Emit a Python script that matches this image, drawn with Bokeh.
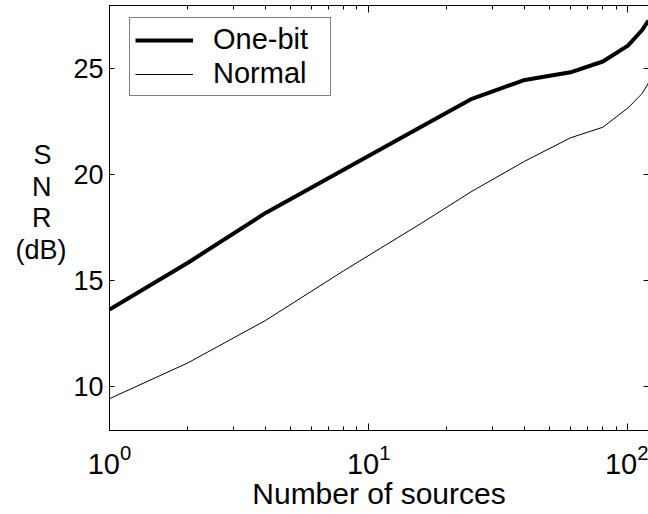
from bokeh.plotting import figure
from bokeh.models import (LogAxis, LinearAxis, FixedTicker, LogTicker,
                          Legend, LegendItem, Range1d, CustomJSTickFormatter)
from bokeh.embed import file_html
from bokeh.resources import INLINE

# ---- data ----
n_sources = [1, 2, 4, 8, 16, 25, 40, 60, 80, 100, 113, 120]
snr_one_bit = [13.62, 15.82, 18.18, 20.22, 22.25, 23.56, 24.45, 24.81, 25.32, 26.07, 26.78, 27.25]
snr_normal = [9.42, 11.1, 13.11, 15.45, 17.7, 19.2, 20.62, 21.72, 22.22, 23.13, 23.79, 24.3]
y_ticks = [10, 15, 20, 25]
y_label_lines = ["S\u00a0\u00a0", "N\u00a0\u00a0", "R\u00a0\u00a0", "(dB)"]

FONT = "Liberation Sans"

p = figure(width=648, height=514, x_axis_type="log",
           x_range=Range1d(1, 120), y_range=Range1d(7.92, 27.96),
           output_backend="svg", toolbar_location=None,
           min_border_left=109, min_border_right=0, min_border_top=5,
           min_border_bottom=84)
p.background_fill_color = "white"
p.border_fill_color = "white"
p.outline_line_color = None
p.grid.visible = False

r1 = p.line(n_sources, snr_one_bit, line_color="black", line_width=4)
r2 = p.line(n_sources, snr_normal, line_color="black", line_width=1)

# bottom axis
xa = p.xaxis[0]
xa.ticker = LogTicker(desired_num_ticks=3, num_minor_ticks=10)
xa.axis_label = "Number of sources"
xa.axis_label_text_font = FONT
xa.axis_label_text_font_size = "30px"
xa.axis_label_text_font_style = "normal"
xa.axis_label_text_color = "black"
xa.axis_label_standoff = 0
xa.major_label_text_font = FONT
xa.major_label_text_font_size = "29px"
xa.major_label_text_color = "black"
xa.major_label_standoff = 13
xa.major_tick_in = 7
xa.major_tick_out = 0
xa.minor_tick_in = 4
xa.minor_tick_out = 0
xa.axis_line_color = "black"
xa.major_tick_line_color = "black"
xa.minor_tick_line_color = "black"

# left axis
ya = p.yaxis[0]
ya.ticker = FixedTicker(ticks=y_ticks)
ya.major_label_text_font = FONT
ya.major_label_text_font_size = "27px"
ya.major_label_text_color = "black"
ya.major_label_standoff = 6
ya.major_tick_in = 5
ya.major_tick_out = 0
ya.minor_tick_in = 0
ya.minor_tick_out = 0
ya.axis_line_color = "black"
ya.axis_label = "\n".join(y_label_lines) + "\n"
ya.axis_label_orientation = "horizontal"
ya.axis_label_text_font = FONT
ya.axis_label_text_font_size = "27px"
ya.axis_label_text_font_style = "normal"
ya.axis_label_text_color = "black"
ya.axis_label_text_align = "center"
ya.axis_label_text_line_height = 1.05
ya.axis_label_standoff = 4

blank = CustomJSTickFormatter(code="return '';")

# top axis (ticks only)
top = LogAxis(ticker=LogTicker(desired_num_ticks=3, num_minor_ticks=10),
              formatter=blank,
              major_label_text_font_size="1px", major_label_standoff=0,
              major_tick_in=7, major_tick_out=0, minor_tick_in=4, minor_tick_out=0,
              axis_line_color="black")
p.add_layout(top, "above")

# right axis (ticks only)
right = LinearAxis(ticker=FixedTicker(ticks=y_ticks), formatter=blank,
                   major_label_text_font_size="1px", major_label_standoff=0,
                   major_tick_in=5, major_tick_out=0, minor_tick_in=0, minor_tick_out=0,
                   axis_line_color=None)
p.add_layout(right, "right")

legend = Legend(items=[LegendItem(label="One-bit", renderers=[r1]),
                       LegendItem(label="Normal", renderers=[r2])],
                location="top_left", orientation="vertical",
                label_text_font=FONT, label_text_font_size="29px",
                label_text_color="black",
                glyph_width=58, glyph_height=30, label_height=30, label_width=112,
                label_standoff=20, padding=5, spacing=1, margin=0,
                border_line_color="black", border_line_width=1,
                background_fill_color="white", background_fill_alpha=1)
p.add_layout(legend)
legend.location = (20, 334)

open("out.html", "w").write(file_html(p, INLINE))
